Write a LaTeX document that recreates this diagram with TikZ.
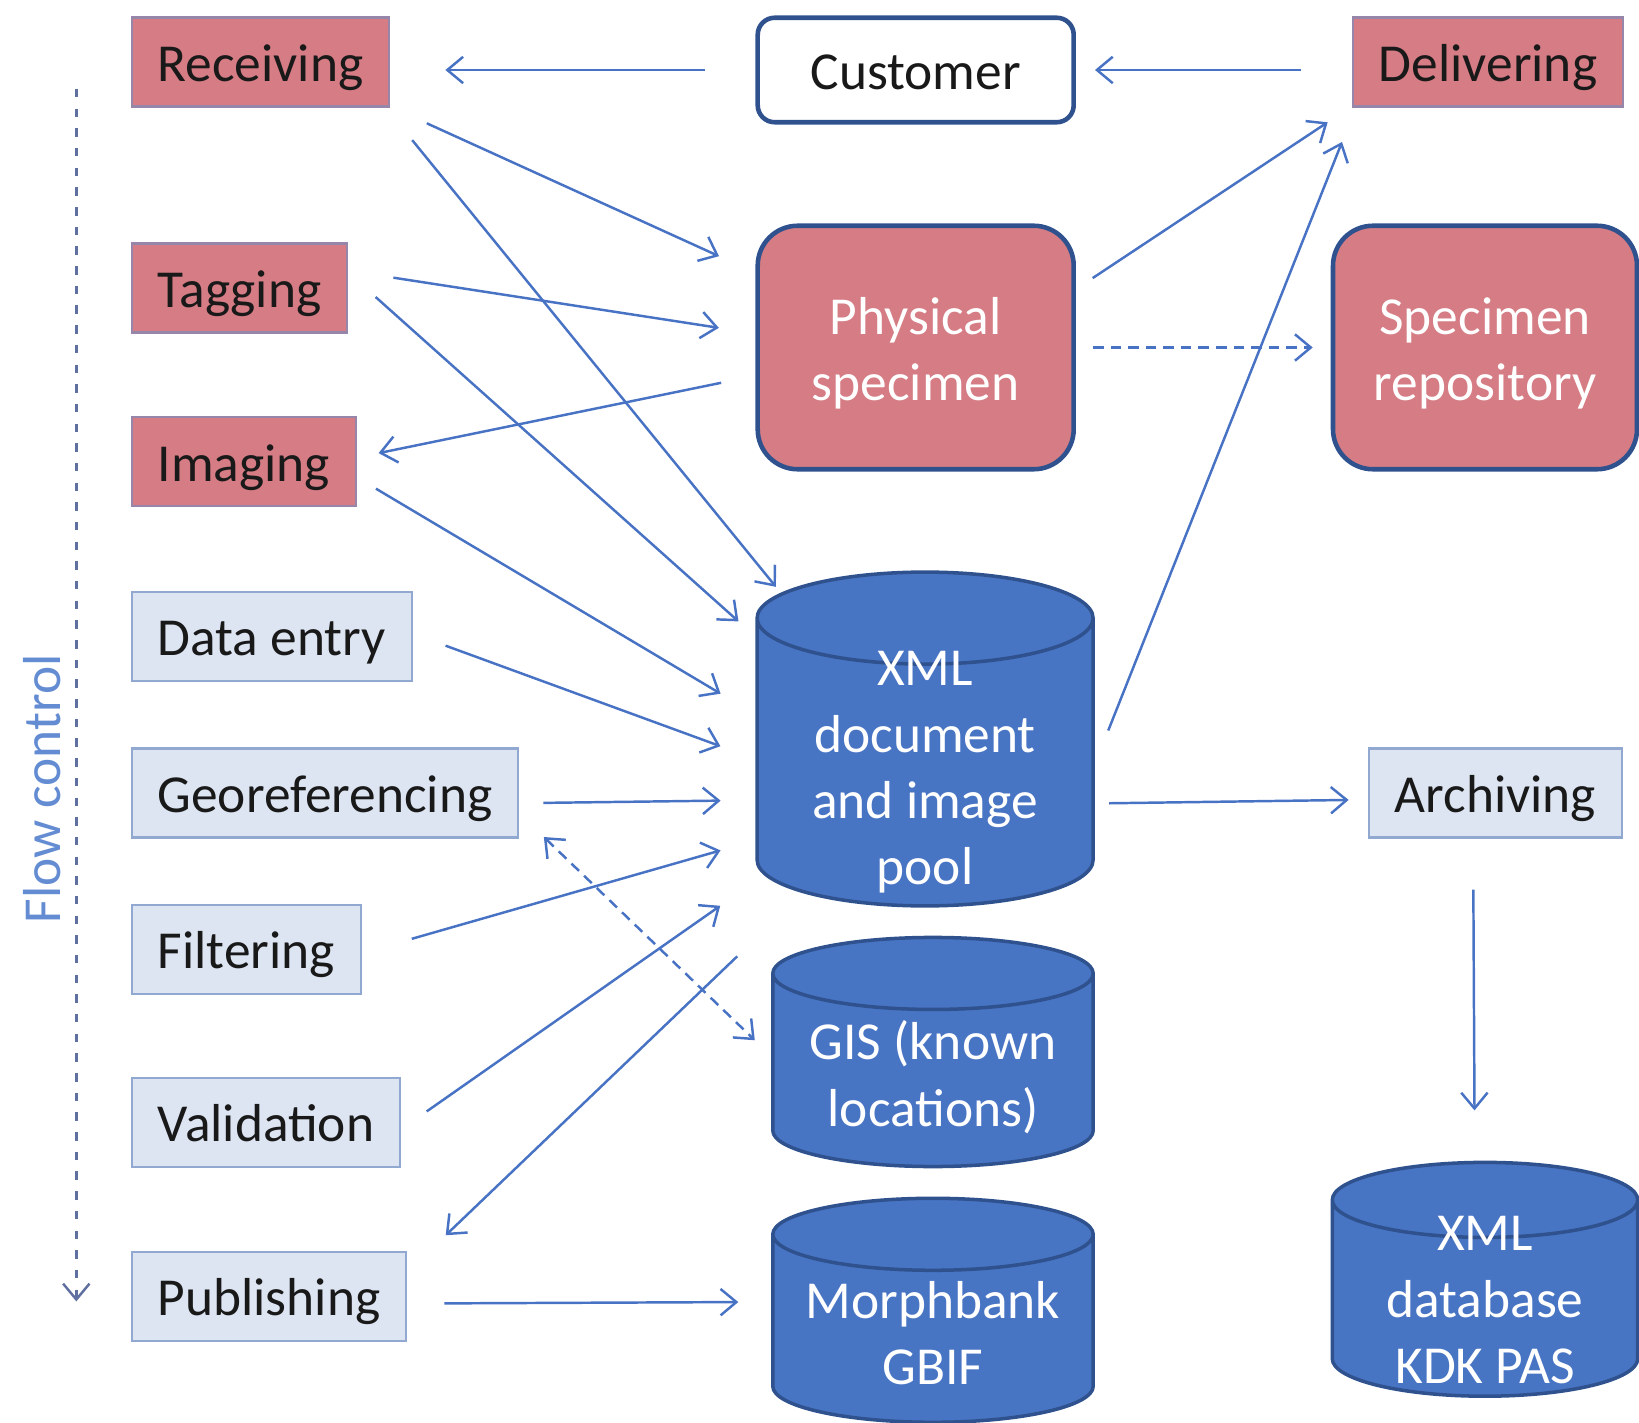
\documentclass[tikz,border=0pt]{standalone}
\usepackage{fontspec}
\setmainfont{Carlito}
\usepackage{tikz}
\usetikzlibrary{calc, positioning, arrows.meta}
\definecolor{redfill}{RGB}{213,124,132}
\definecolor{redline}{RGB}{150,135,170}
\definecolor{boxfill}{RGB}{221,229,243}
\definecolor{boxline}{RGB}{145,168,208}
\definecolor{dbfill}{RGB}{72,116,196}
\definecolor{dbline}{RGB}{47,82,143}
\definecolor{flowblue}{RGB}{72,114,196}
\definecolor{flowgrey}{RGB}{95,112,160}
\definecolor{flowtext}{RGB}{100,140,210}
% cylinder round an (empty) node: #1 node name, #2 end radius
\newcommand{\dbcan}[2]{%
  \path[fill=dbfill, draw=dbline, line width=1pt]
    let \p1=(#1.north west), \p2=(#1.south east), \n1={(\x2-\x1)/2} in
    (\x1,\y1-#2) -- (\x1,\y2+#2)
    arc[start angle=180, end angle=360, x radius=\n1, y radius=#2]
    -- (\x2,\y1-#2)
    arc[start angle=0, end angle=180, x radius=\n1, y radius=#2] -- cycle
    (\x1,\y1-#2) arc[start angle=180, end angle=360, x radius=\n1, y radius=#2];
}

\begin{document}
\begin{tikzpicture}[
    font=\fontsize{15.2pt}{18.9pt}\selectfont,
    redbox/.style={draw=redline, fill=redfill, line width=0.6pt, inner xsep=0.26cm,
                   inner ysep=0.05cm, text height=14pt, text depth=2.8pt,
                   minimum height=0.89cm, text=black!90},
    bluebox/.style={redbox, draw=boxline, fill=boxfill},
    roundbox/.style={draw=dbline, line width=1.3pt, rounded corners=0.4cm},
    dbbody/.style={inner sep=0pt},
    whitetxt/.style={text=white, align=center, inner sep=0pt},
    flow/.style={draw=flowblue, line width=0.7pt, -{Straight Barb[length=4.5pt, width=7.5pt]}},
    flowdash/.style={flow, dash pattern=on 3pt off 2pt}
  ]
  \fill[white] (0,0) rectangle (16.39,14.22);
  \useasboundingbox (0,0) rectangle (16.39,14.22);

  % --- Left column: process steps ---
  \node[redbox, anchor=west]  (recv)  at (1.306,13.60) {Receiving};
  \node[redbox, anchor=west]  (tag)   at (1.306,11.34) {Tagging};
  \node[redbox, anchor=west]  (img)   at (1.306,9.605) {Imaging};
  \node[bluebox, anchor=west] (data)  at (1.306,7.859) {Data entry};
  \node[bluebox, anchor=west] (geo)   at (1.306,6.29)  {Georeferencing};
  \node[bluebox, anchor=west] (filt)  at (1.306,4.729) {Filtering};
  \node[bluebox, anchor=west] (valid) at (1.306,2.999) {Validation};
  \node[bluebox, anchor=west] (pub)   at (1.306,1.257) {Publishing};

  % flow control
  \coordinate (fctop) at (0.763,13.33);
  \coordinate (fcbot) at (0.763,1.206);
  \draw[flow, draw=flowgrey, dash pattern=on 2.4pt off 3.2pt] (fctop) -- (fcbot);
  \node[rotate=90, text=flowtext] (fclabel) at (0.418,6.33) {Flow control};

  % --- Middle column ---
  \node[roundbox, fill=white, rounded corners=0.17cm, minimum width=3.16cm,
        minimum height=1.045cm, text height=14pt, text depth=2.8pt,
        text=black!90] (cust) at (9.157,13.52) {Customer};
  \node[roundbox, fill=redfill, minimum width=3.16cm, minimum height=2.435cm]
        (phys) at (9.157,10.745) {};
  \node[whitetxt] (phystxt) at ([yshift=-0.06cm]phys.center) {Physical\\specimen};

  \node[dbbody, minimum width=3.346cm, minimum height=3.324cm] (pool) at (9.251,6.83) {};
  \dbcan{pool}{0.46cm}
  \node[whitetxt] (pooltxt) at ([yshift=-0.335cm]pool.center) {XML\\document\\and image\\pool};

  \node[dbbody, minimum width=3.19cm, minimum height=2.277cm] (gis) at (9.33,3.70) {};
  \dbcan{gis}{0.36cm}
  \node[whitetxt] (gistxt) at ([yshift=-0.25cm]gis.center) {GIS (known\\locations)};

  \node[dbbody, minimum width=3.19cm, minimum height=2.226cm] (morph) at (9.33,1.117) {};
  \dbcan{morph}{0.36cm}
  \node[whitetxt] (morphtxt) at ([yshift=-0.23cm]morph.center) {Morphbank\\GBIF};

  % --- Right column ---
  \node[redbox] (deliv) at (14.88,13.60) {Delivering};
  \node[roundbox, fill=redfill, minimum width=3.04cm, minimum height=2.435cm]
        (repo) at (14.85,10.745) {};
  \node[whitetxt] (repotxt) at ([yshift=-0.06cm]repo.center) {Specimen\\repository};
  \node[bluebox] (arch) at (14.953,6.29) {Archiving};

  \node[dbbody, minimum width=3.04cm, minimum height=2.324cm] (kdk) at (14.85,1.427) {};
  \dbcan{kdk}{0.375cm}
  \node[whitetxt] (kdktxt) at ([yshift=-0.21cm]kdk.center) {XML\\database\\KDK PAS};

  % --- Connectors ---
  \draw[flow, shorten <=0.50cm, shorten >=0.55cm] (cust.west) -- (cust.west -| recv.east);
  \draw[flow, shorten <=0.51cm, shorten >=0.19cm] (deliv.west |- cust.east) -- (cust.east);
  \draw[flow, shorten <=0.40cm, shorten >=0.40cm] (recv.341.7) -- (phys.155.7);
  \draw[flow, shorten <=0.42cm, shorten >=-0.19cm] (recv.340) -- (pool.134.5);
  \draw[flow, shorten <=0.455cm, shorten >=0.37cm] (tag.9) -- (phys.175.9);
  \draw[flow, shorten <=0.365cm, shorten >=0.25cm] (tag.8.1) -- (pool.149.1);
  \draw[flow, shorten <=0.35cm, shorten >=0.22cm] (phys.190.1) -- (img.2.3);
  \draw[flow, shorten <=0.22cm, shorten >=0.425cm] (img.352.2) -- (pool.172.5);
  \draw[flow, shorten <=0.35cm, shorten >=0.39cm] (data.1.8) -- (pool.187.6);
  \draw[flow, shorten <=0.24cm, shorten >=0.365cm] (geo.357.8) -- (pool.200.2);
  \draw[flow, shorten <=0.52cm, shorten >=0.38cm] (filt.358.2) -- (pool.211.5);
  \draw[flow, shorten <=0.31cm, shorten >=0.45cm] (valid.357.1) -- (pool.220);
  \draw[flow, shorten <=0.73cm, shorten >=0.53cm] (pool.231.8) -- (pub.10.7);
  \draw[flow, shorten <=0.37cm, shorten >=0.345cm] (pub.357) -- (morph.177.6);
  \draw[flowdash, {Straight Barb[length=4.5pt, width=7.5pt]}-{Straight Barb[length=4.5pt, width=7.5pt]},
        shorten <=0.34cm, shorten >=0.25cm] (geo.354.5) -- (gis.182.9);
  \draw[flow, shorten <=0.20cm, shorten >=0.29cm] (phys.20.4) -- (deliv.198.5);
  \draw[flow, shorten <=0.41cm, shorten >=0.37cm] (pool.350.6) -- (deliv.199.5);
  \draw[flowdash, shorten <=0.17cm, shorten >=0.18cm] (phys.east) -- (repo.west);
  \draw[flow, shorten <=0.16cm, shorten >=0.19cm] (pool.339.8) -- (arch.183.4);
  \draw[flow, shorten <=0.51cm, shorten >=0.52cm] (arch.244.2) -- (kdk.95.5);
\end{tikzpicture}
\end{document}
